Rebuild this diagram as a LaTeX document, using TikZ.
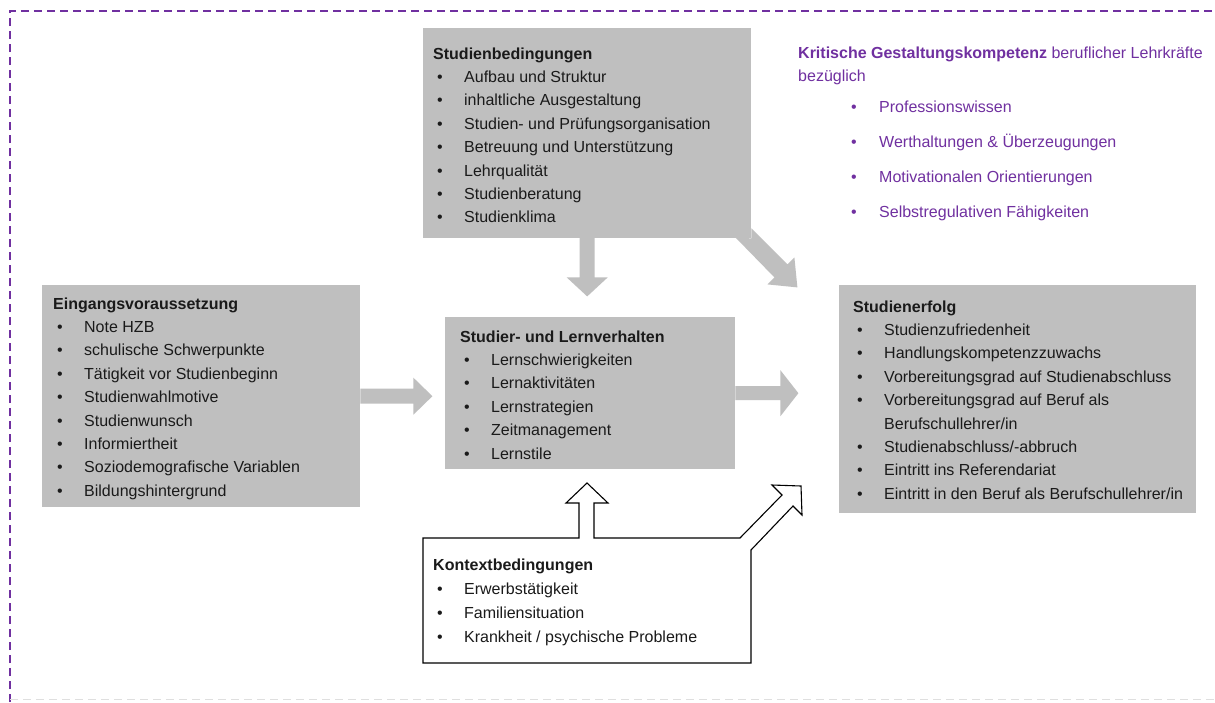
\documentclass[tikz,border=0pt]{standalone}
\usepackage{fontspec}
\setmainfont{Liberation Sans}
\usetikzlibrary{calc}
\definecolor{lila}{HTML}{7030A0}
\definecolor{boxgray}{HTML}{BFBFBF}
\definecolor{txt}{HTML}{1A1A1A}
\newcommand{\bi}[1]{\makebox[31pt][l]{\hspace*{4pt}\textbullet}#1}
\newcommand{\pbi}[1]{\makebox[28pt][l]{\textbullet}#1}
\tikzset{
  graybox/.style={fill=boxgray, draw=none, inner sep=0pt, anchor=north west},
  whitebox/.style={fill=white, draw=none, inner sep=0pt, anchor=north west},
  lst/.style={anchor=base west, align=left, inner sep=0pt, text=txt, font=\fontsize{16}{23.4}\selectfont},
  plst/.style={anchor=base west, align=left, inner sep=0pt, text=lila, font=\fontsize{16}{35}\selectfont},
  ptitle/.style={anchor=base west, align=left, inner sep=0pt, text=lila, font=\fontsize{16}{23}\selectfont},
  grayarrow/.style={fill=boxgray, draw=none},
  hollow/.style={draw=black, line width=1.1pt, fill=white, line join=miter},
  border/.style={draw=lila, line width=2pt, dash pattern=on 8pt off 5pt},
}
\begin{document}
\begin{tikzpicture}[x=1pt, y=-1pt]
\useasboundingbox (0,0) rectangle (1215,702);
\fill[white] (0,0) rectangle (1215,702);

% dashed frame
\draw[border] (10,702) -- (10,11) -- (1215,11);
\draw[gray!25, line width=1pt, dash pattern=on 8pt off 5pt] (10,699.5) -- (1215,699.5);

% boxes
\node[graybox, minimum width=318pt, minimum height=222pt] (eing) at (42,285) {};
\node[graybox, minimum width=328pt, minimum height=210pt] (bed) at (423,28) {};
\node[graybox, minimum width=290pt, minimum height=152pt] (lern) at (445,317) {};
\node[graybox, minimum width=357pt, minimum height=228pt] (erfolg) at (839,285) {};
\node[whitebox, minimum width=328pt, minimum height=125pt] (kontext) at (423,538) {};

% gray arrows
\fill[grayarrow] (eing.east) ++(0,-7.5) -- ++(53,0) -- ++(0,-11) -- ++(19,18.5) -- ++(-19,18.5) -- ++(0,-11) -- ++(-53,0) -- cycle;
\fill[grayarrow] (lern.east) ++(0,-7) -- ++(45,0) -- ++(0,-16) -- ++(18,23) -- ++(-18,23) -- ++(0,-16) -- ++(-45,0) -- cycle;
\fill[grayarrow] (bed.south) ++(-7.5,-1) -- ++(0,40) -- ++(-13,0) -- ++(20.5,19) -- ++(20.5,-19) -- ++(-13,0) -- ++(0,-40) -- cycle;
\fill[grayarrow] (bed.south east) ++(-16,-1) -- ++(39,40) -- ++(-7,7) -- ++(30,3) -- ++(-3,-30) -- ++(-7,7) -- ++(-36,-36) -- ++(0,10) -- cycle;

% context box with hollow arrows
\draw[hollow] (kontext.north west) ++(0,125) -- ++(0,-125) -- ++(156,0) -- ++(0,-35) -- ++(-13,0) -- ++(21,-20) -- ++(21,20) -- ++(-14,0) -- ++(0,35) -- ++(146,0) -- ++(42,-43) -- ++(-10,-10) -- ++(29,1) -- ++(1,29) -- ++(-9,-9) -- ++(-42,44) -- ++(0,113) -- cycle;
\draw[gray!70!black, line width=1.6pt] (kontext.south west) -- (kontext.south east);

% texts (anchor = baseline of last line)
\node[lst] (teing) at (53,496.2) {\textbf{Eingangsvoraussetzung}\\
\bi{Note HZB}\\
\bi{schulische Schwerpunkte}\\
\bi{Tätigkeit vor Studienbeginn}\\
\bi{Studienwahlmotive}\\
\bi{Studienwunsch}\\
\bi{Informiertheit}\\
\bi{Soziodemografische Variablen}\\
\bi{Bildungshintergrund}};

\node[lst] (tbed) at (433,222.8) {\textbf{Studienbedingungen}\\
\bi{Aufbau und Struktur}\\
\bi{inhaltliche Ausgestaltung}\\
\bi{Studien- und Prüfungsorganisation}\\
\bi{Betreuung und Unterstützung}\\
\bi{Lehrqualität}\\
\bi{Studienberatung}\\
\bi{Studienklima}};

\node[lst] (tlern) at (460,459) {\textbf{Studier- und Lernverhalten}\\
\bi{Lernschwierigkeiten}\\
\bi{Lernaktivitäten}\\
\bi{Lernstrategien}\\
\bi{Zeitmanagement}\\
\bi{Lernstile}};

\node[lst] (terfolg) at (853,499.2) {\textbf{Studienerfolg}\\
\bi{Studienzufriedenheit}\\
\bi{Handlungskompetenzzuwachs}\\
\bi{Vorbereitungsgrad auf Studienabschluss}\\
\bi{Vorbereitungsgrad auf Beruf als}\\
\hspace*{31pt}Berufschullehrer/in\\
\bi{Studienabschluss/-abbruch}\\
\bi{Eintritt ins Referendariat}\\
\bi{Eintritt in den Beruf als Berufschullehrer/in}};

\node[lst, font=\fontsize{16}{24}\selectfont] (tkontext) at (433,642) {\textbf{Kontextbedingungen}\\
\bi{Erwerbstätigkeit}\\
\bi{Familiensituation}\\
\bi{Krankheit / psychische Probleme}};

\node[ptitle] (tkrit) at (798,81) {\textbf{Kritische Gestaltungskompetenz} beruflicher Lehrkräfte\\ bezüglich};
\node[plst] (tkritl) at (851,217) {\pbi{Professionswissen}\\
\pbi{Werthaltungen \& Überzeugungen}\\
\pbi{Motivationalen Orientierungen}\\
\pbi{Selbstregulativen Fähigkeiten}};
\end{tikzpicture}
\end{document}
